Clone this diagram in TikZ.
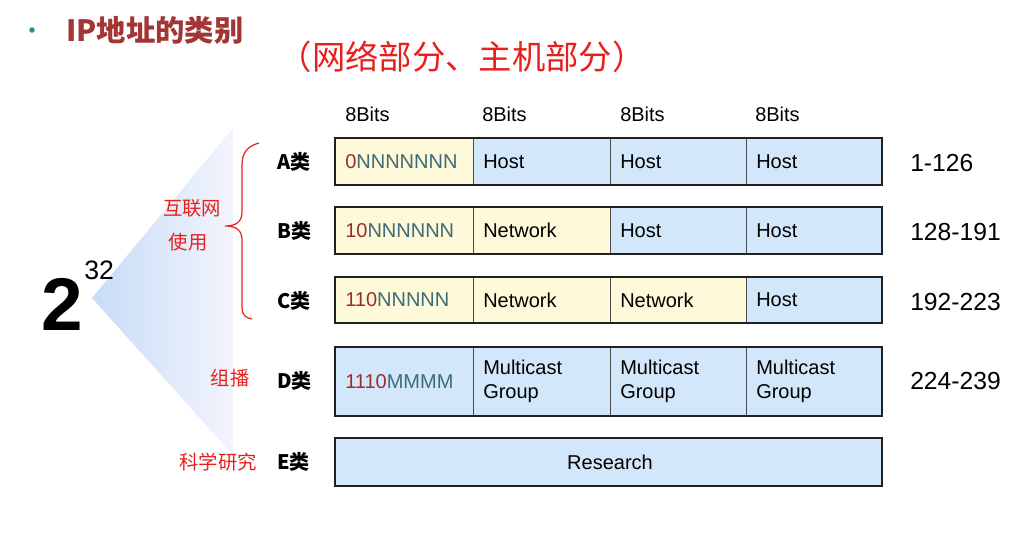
\documentclass[tikz,border=0pt]{standalone}
\usepackage{fontspec}
\setmainfont{Liberation Sans}
\newfontfamily\cjk{Noto Sans CJK SC}
\definecolor{titlered}{HTML}{A33535}
\definecolor{notered}{HTML}{E8201C}
\definecolor{bulletteal}{HTML}{3A8A9A}
\definecolor{cellyellow}{HTML}{FEF9D8}
\definecolor{cellblue}{HTML}{D3E7FB}
\definecolor{divgray}{HTML}{4A4A4A}
\definecolor{framecol}{HTML}{202020}
\definecolor{bitred}{HTML}{9E2B2B}
\definecolor{bitteal}{HTML}{3F6A78}
\definecolor{fanblue}{HTML}{C6DCF8}
\definecolor{fanpale}{HTML}{F3F4FC}
\begin{document}
\begin{tikzpicture}[x=0.75pt,y=-0.75pt,
  celltext/.style={font=\fontsize{15}{18}\selectfont, anchor=west, inner sep=0pt, align=left},
  bitslabel/.style={font=\fontsize{15}{18}\selectfont, anchor=west, inner sep=0pt},
  classlabel/.style={font=\cjk\bfseries\fontsize{15}{18}\selectfont, anchor=west, inner sep=0pt},
  rangelabel/.style={font=\fontsize{18.5}{22}\selectfont, anchor=west, inner sep=0pt},
  note/.style={font=\cjk\fontsize{14.5}{18}\selectfont, text=notered, inner sep=0pt},
  yel/.style={fill=cellyellow, draw=divgray, line width=0.6pt},
  blu/.style={fill=cellblue, draw=divgray, line width=0.6pt},
  frame/.style={draw=framecol, line width=1.9pt}]
\useasboundingbox[fill=white] (0,0) rectangle (1010,534);

% heading
\fill[bulletteal] (32,30) circle (2.8);
\node[font=\cjk\bfseries\fontsize{22}{26}\selectfont, text=titlered, anchor=west, inner sep=0pt] (title) at (66,30) {IP地址的类别};
\node[font=\cjk\fontsize{25}{30}\selectfont, text=notered, inner sep=0pt] (subtitle) at (462,57) {（网络部分、主机部分）};

% address space fan
\shade[left color=fanblue, right color=fanpale] (92,298) -- (233,128) -- (233,455) -- cycle;
\node[font=\bfseries\fontsize{56}{60}\selectfont, inner sep=0pt] (two) at (62,304) {2};
\node[font=\fontsize{20}{24}\selectfont, inner sep=0pt, anchor=west] (exp) at (84,270) {32};

% brace over classes A-C
\draw[notered, line width=0.9pt] (259,143) .. controls (248,146) and (242,152) .. (242,165)
  -- (242,212) .. controls (242,222) and (236,226) .. (225,226)
  .. controls (236,226) and (242,230) .. (242,240)
  -- (242,308) .. controls (242,315) and (246,318) .. (252,319);

% annotations
\node[note] (inet1) at (192,208) {互联网};
\node[note] (inet2) at (188,242) {使用};
\node[note] (mcast) at (230,378) {组播};
\node[note] (sci) at (218,462) {科学研究};

% byte headers
\node[bitslabel] (b1) at (345,114) {8Bits};
\node[bitslabel] (b2) at (482,114) {8Bits};
\node[bitslabel] (b3) at (620,114) {8Bits};
\node[bitslabel] (b4) at (755,114) {8Bits};

% class A
\filldraw[yel] (335,138) rectangle (473,185);
\filldraw[blu] (473,138) rectangle (610,185);
\filldraw[blu] (610,138) rectangle (746,185);
\filldraw[blu] (746,138) rectangle (882,185);
\draw[frame] (335,138) rectangle (882,185);
\node[celltext] (a1) at (345,161.5) {\textcolor{bitred}{0}\textcolor{bitteal}{NNNNNNN}};
\node[celltext] (a2) at (483,161.5) {Host};
\node[celltext] (a3) at (620,161.5) {Host};
\node[celltext] (a4) at (756,161.5) {Host};

% class B
\filldraw[yel] (335,207) rectangle (473,254);
\filldraw[yel] (473,207) rectangle (610,254);
\filldraw[blu] (610,207) rectangle (746,254);
\filldraw[blu] (746,207) rectangle (882,254);
\draw[frame] (335,207) rectangle (882,254);
\node[celltext] (bb1) at (345,230.5) {\textcolor{bitred}{10}\textcolor{bitteal}{NNNNNN}};
\node[celltext] (bb2) at (483,230.5) {Network};
\node[celltext] (bb3) at (620,230.5) {Host};
\node[celltext] (bb4) at (756,230.5) {Host};

% class C
\filldraw[yel] (335,277) rectangle (473,323);
\filldraw[yel] (473,277) rectangle (610,323);
\filldraw[yel] (610,277) rectangle (746,323);
\filldraw[blu] (746,277) rectangle (882,323);
\draw[frame] (335,277) rectangle (882,323);
\node[celltext] (c1) at (345,300) {\textcolor{bitred}{110}\textcolor{bitteal}{NNNNN}};
\node[celltext] (c2) at (483,300) {Network};
\node[celltext] (c3) at (620,300) {Network};
\node[celltext] (c4) at (756,300) {Host};

% class D
\filldraw[blu] (335,347) rectangle (473,416);
\filldraw[blu] (473,347) rectangle (610,416);
\filldraw[blu] (610,347) rectangle (746,416);
\filldraw[blu] (746,347) rectangle (882,416);
\draw[frame] (335,347) rectangle (882,416);
\node[celltext] (d1) at (345,381.5) {\textcolor{bitred}{1110}\textcolor{bitteal}{MMMM}};
\node[celltext] (d2) at (483,381.5) {Multicast\\Group};
\node[celltext] (d3) at (620,381.5) {Multicast\\Group};
\node[celltext] (d4) at (756,381.5) {Multicast\\Group};

% class E
\filldraw[blu] (335,438) rectangle (882,486);
\draw[frame] (335,438) rectangle (882,486);
\node[font=\fontsize{15}{18}\selectfont, inner sep=0pt] (e1) at (610,462) {Research};

% class names
\node[classlabel] (ca) at (277,162) {A类};
\node[classlabel] (cb) at (277,231) {B类};
\node[classlabel] (cc) at (277,301) {C类};
\node[classlabel] (cd) at (277,381) {D类};
\node[classlabel] (ce) at (277,462) {E类};

% first-octet ranges
\node[rangelabel] (ra) at (910,163) {1-126};
\node[rangelabel] (rb) at (910,232) {128-191};
\node[rangelabel] (rc) at (910,302) {192-223};
\node[rangelabel] (rd) at (910,381) {224-239};
\end{tikzpicture}
\end{document}
